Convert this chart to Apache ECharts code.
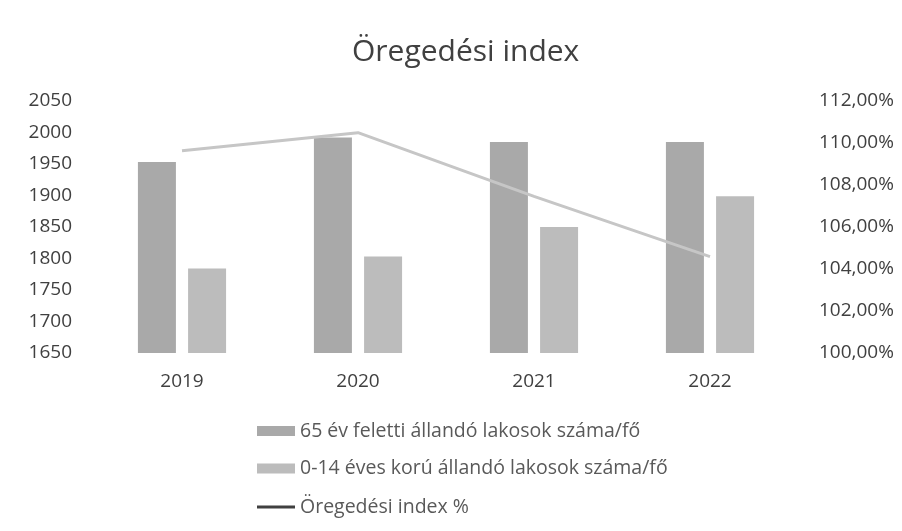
<!DOCTYPE html>
<html><head><meta charset="utf-8">
<script src="https://cdn.jsdelivr.net/npm/echarts@6/dist/echarts.min.js"></script>
<style>html,body{margin:0;padding:0;background:#fff}#c{width:902px;height:531px}</style>
</head><body><div id="c"></div>
<script>
var categories = ['2019', '2020', '2021', '2022'];
var over65 = [1953, 1992, 1985, 1985];
var under14 = [1784, 1803, 1850, 1899];
var agingIndex = [109.63, 110.49, 107.46, 104.59];
var leftTicks = [1650, 2050, 50];
var rightTicks = [100, 112, 2];
var names = ['65 év feletti állandó lakosok száma/fő', '0-14 éves korú állandó lakosok száma/fő', 'Öregedési index %'];

var font = 'Open Sans';
var fs = 19;
var chart = echarts.init(document.getElementById('c'));
chart.setOption({
  animation: false,
  title: { text: 'Öregedési index', left: 347, top: 32,
    textStyle: { fontFamily: font, fontSize: 30, fontWeight: 'normal', color: '#404040' } },
  grid: { left: 94, right: 104, top: 101, bottom: 178 },
  legend: [
    { orient: 'vertical', left: 252, top: 416, itemGap: 17.5, itemWidth: 38, itemHeight: 10,
      textStyle: { fontFamily: font, fontSize: 19.5, lineHeight: 20, color: '#595959' },
      data: [ { name: names[0], icon: 'rect' }, { name: names[1], icon: 'rect' } ] },
    { orient: 'vertical', left: 252, top: 492, itemWidth: 38, itemHeight: 3,
      textStyle: { fontFamily: font, fontSize: 19.5, lineHeight: 20, color: '#595959' },
      data: [ { name: names[2], icon: 'rect', itemStyle: { color: '#404040' } } ] }
  ],
  xAxis: { type: 'category', data: categories,
    axisLine: { show: false }, axisTick: { show: false },
    axisLabel: { fontFamily: font, fontSize: fs, color: '#404040', margin: 19 } },
  yAxis: [
    { type: 'value', min: leftTicks[0], max: leftTicks[1], interval: leftTicks[2],
      splitLine: { show: false }, axisLine: { show: false }, axisTick: { show: false },
      axisLabel: { fontFamily: font, fontSize: fs, color: '#404040', margin: 22,
        formatter: function (v) { return String(v); } } },
    { type: 'value', min: rightTicks[0], max: rightTicks[1], interval: rightTicks[2],
      splitLine: { show: false }, axisLine: { show: false }, axisTick: { show: false },
      axisLabel: { fontFamily: font, fontSize: fs, color: '#404040', margin: 21,
        formatter: function (v) { return v.toFixed(2).replace('.', ',') + '%'; } } }
  ],
  series: [
    { name: names[0], type: 'bar', data: over65, barWidth: 38, barGap: '32%',
      itemStyle: { color: '#a9a9a9' } },
    { name: names[1], type: 'bar', data: under14, barWidth: 38,
      itemStyle: { color: '#bcbcbc' } },
    { name: names[2], type: 'line', yAxisIndex: 1, data: agingIndex, symbol: 'none',
      lineStyle: { color: '#c6c6c6', width: 3 }, itemStyle: { color: '#c6c6c6' } }
  ]
});
</script></body></html>
